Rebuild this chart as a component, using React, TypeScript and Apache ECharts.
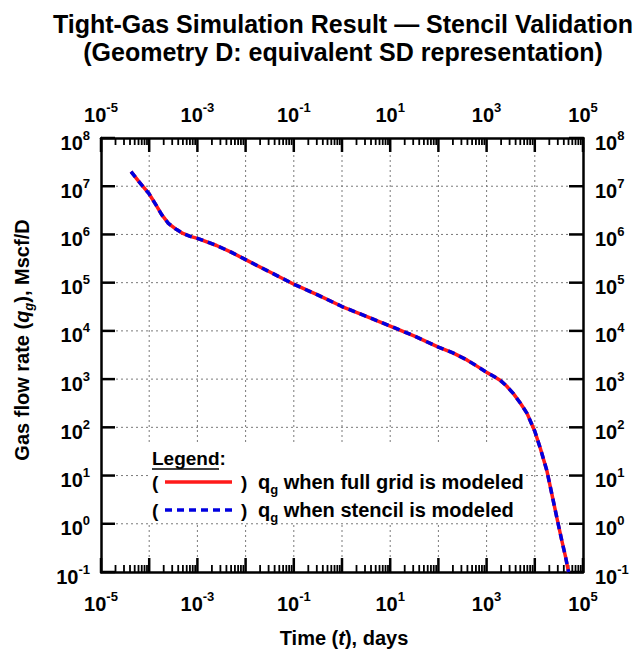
import React, { useEffect, useRef } from "react";
import * as echarts from "echarts";

// Time (days)
const timeDays = [
  4.2e-5, 6.3e-5, 1.0e-4, 1.4e-4, 1.8e-4, 2.5e-4, 3.7e-4, 5.0e-4, 7.1e-4, 1.0e-3,
  2.5e-3, 5.0e-3, 1.0e-2, 3.2e-2, 0.1, 0.32, 1, 3.2, 10, 32,
  100, 200, 390, 630, 1000, 1400, 1900, 2600, 3600, 5000,
  6900, 10000, 13200, 17800, 24500, 30200, 36300, 43700, 50100,
];
// Gas flow rate (Mscf/D) when full grid is modeled
const fullGridRate = [
  2.0e7, 1.2e7, 6.9e6, 4.0e6, 2.6e6, 1.7e6, 1.26e6, 1.05e6, 9.1e5, 8.3e5,
  5.9e5, 4.3e5, 3.0e5, 1.66e5, 9.3e4, 5.5e4, 3.2e4, 2.0e4, 1.26e4, 7.8e3,
  4.6e3, 3.5e3, 2.5e3, 1.86e3, 1.38e3, 1.15e3, 950, 720, 500, 320,
  195, 83, 35, 12.6, 2.8, 1.05, 0.45, 0.2, 0.1,
];
// Gas flow rate (Mscf/D) when stencil is modeled
const stencilRate = [
  2.0e7, 1.2e7, 6.9e6, 4.0e6, 2.6e6, 1.7e6, 1.26e6, 1.05e6, 9.1e5, 8.3e5,
  5.9e5, 4.3e5, 3.0e5, 1.66e5, 9.3e4, 5.5e4, 3.2e4, 2.0e4, 1.26e4, 7.8e3,
  4.6e3, 3.5e3, 2.5e3, 1.86e3, 1.38e3, 1.15e3, 950, 720, 500, 320,
  195, 83, 35, 12.6, 2.8, 1.05, 0.45, 0.2, 0.1,
];

const X_MIN = 1e-5;
const X_MAX = 1e5;
const Y_MIN = 1e-1;
const Y_MAX = 1e8;

// decade exponents for major ticks / grid lines
const xExponents = [-5, -4, -3, -2, -1, 0, 1, 2, 3, 4, 5];
const yExponents = [-1, 0, 1, 2, 3, 4, 5, 6, 7, 8];
const minorMultipliers = [2, 3, 4, 5, 6, 7, 8, 9];

const titleLines = [
  "Tight-Gas Simulation Result \u2014 Stencil Validation",
  "(Geometry D: equivalent SD representation)",
];

const FONT = '"Liberation Sans", Arial, Helvetica, sans-serif';

const tickRich = {
  b: { fontSize: 20, fontWeight: "bold", fontFamily: FONT, color: "#000", lineHeight: 28 },
  s: { fontSize: 13, fontWeight: "bold", fontFamily: FONT, color: "#000", lineHeight: 6, verticalAlign: "top" },
};

const expOf = (v: number) => Math.round(Math.log10(v));
const xFmt = (v: number) => {
  const e = expOf(v);
  return e % 2 !== 0 ? `{b|10}{s|${e}}` : "";
};
const yFmt = (v: number) => `{b|10}{s|${expOf(v)}}`;

export default function App() {
  const ref = useRef<HTMLDivElement>(null);
  useEffect(() => {
    if (!ref.current) return;
    const chart = echarts.init(ref.current, null, { renderer: "svg" });

    const minorTicks: number[][] = [];
    xExponents.slice(0, -1).forEach((e) =>
      minorMultipliers.forEach((m) => minorTicks.push([m * Math.pow(10, e), Y_MIN]))
    );
    const xMajor = xExponents.map((e) => [Math.pow(10, e), Y_MIN]);
    const yMajor = yExponents.map((e) => [X_MIN, Math.pow(10, e)]);

    const axisLineStyle = { color: "#000", width: 2.5 };
    const GRID = { stroke: "#7a7a7a", lineWidth: 1, lineDash: [2, 3] };
    const TICK = { stroke: "#000", lineWidth: 2.5 };
    const MINOR = { stroke: "#000", lineWidth: 1.8 };

    const txt = (x: number, y: number, text: string, extra: any = {}) => ({
      type: "text",
      x,
      y,
      z: 20,
      style: {
        text,
        fontSize: 19,
        fontWeight: "bold",
        fontFamily: FONT,
        fill: "#000",
        verticalAlign: "middle",
        ...extra,
      },
    });

    const legendRich = {
      q: { fontSize: 20, fontWeight: "bold", fontFamily: FONT, color: "#000", lineHeight: 28 },
      g: { fontSize: 13, fontWeight: "bold", fontFamily: FONT, color: "#000", lineHeight: 14, verticalAlign: "bottom" },
    };

    const logX = (position: string, margin: number) => ({
      type: "log",
      logBase: 10,
      min: X_MIN,
      max: X_MAX,
      interval: 1,
      position,
      axisLine: { show: true, lineStyle: axisLineStyle },
      axisTick: { show: false },
      axisLabel: { interval: 0, formatter: xFmt, rich: tickRich, margin },
      splitLine: { show: false },
    });
    const logY = (position: string, margin: number) => ({
      type: "log",
      logBase: 10,
      min: Y_MIN,
      max: Y_MAX,
      interval: 1,
      position,
      axisLine: { show: true, lineStyle: axisLineStyle },
      axisTick: { show: false },
      axisLabel: { interval: 0, formatter: yFmt, rich: tickRich, margin, padding: [9, 0, 0, 0] },
      splitLine: { show: false },
    });

    const option: any = {
      animation: false,
      backgroundColor: "#fff",
      title: {
        text: titleLines.join("\n"),
        left: 338,
        top: 5,
        textAlign: "center",
        textStyle: {
          fontSize: 25,
          fontWeight: "bold",
          fontFamily: FONT,
          color: "#000",
          lineHeight: 28,
        },
      },
      grid: { left: 101, top: 138, width: 482, height: 434, containLabel: false },
      xAxis: [logX("bottom", 18), logX("top", 9)],
      yAxis: [logY("left", 11), logY("right", 12)],
      series: [
        {
          // vertical grid lines + major x ticks (bottom & top)
          type: "custom",
          xAxisIndex: 0,
          yAxisIndex: 0,
          silent: true,
          clip: false,
          data: xMajor,
          z: 1,
          renderItem: (_p: any, api: any) => {
            const t = api.value(0);
            const b = api.coord([t, Y_MIN]);
            const tp = api.coord([t, Y_MAX]);
            const inner = t > X_MIN * 1.01 && t < X_MAX / 1.01;
            const children: any[] = [];
            if (inner) children.push({ type: "line", shape: { x1: b[0], y1: b[1], x2: tp[0], y2: tp[1] }, style: GRID });
            children.push({ type: "line", z2: 5, shape: { x1: b[0], y1: b[1], x2: b[0], y2: b[1] - 14 }, style: TICK });
            children.push({ type: "line", z2: 5, shape: { x1: tp[0], y1: tp[1], x2: tp[0], y2: tp[1] + 14 }, style: TICK });
            return { type: "group", children };
          },
        },
        {
          // horizontal grid lines + major y ticks (left & right)
          type: "custom",
          xAxisIndex: 0,
          yAxisIndex: 0,
          silent: true,
          clip: false,
          data: yMajor,
          z: 1,
          renderItem: (_p: any, api: any) => {
            const v = api.value(1);
            const l = api.coord([X_MIN, v]);
            const r = api.coord([X_MAX, v]);
            const inner = v > Y_MIN * 1.01 && v < Y_MAX / 1.01;
            const children: any[] = [];
            if (inner) children.push({ type: "line", shape: { x1: l[0], y1: l[1], x2: r[0], y2: r[1] }, style: GRID });
            children.push({ type: "line", z2: 5, shape: { x1: l[0], y1: l[1], x2: l[0] + 14, y2: l[1] }, style: TICK });
            children.push({ type: "line", z2: 5, shape: { x1: r[0], y1: r[1], x2: r[0] - 14, y2: r[1] }, style: TICK });
            return { type: "group", children };
          },
        },
        {
          // minor x ticks (bottom & top)
          type: "custom",
          xAxisIndex: 0,
          yAxisIndex: 0,
          silent: true,
          clip: false,
          data: minorTicks,
          z: 1,
          renderItem: (_p: any, api: any) => {
            const t = api.value(0);
            const b = api.coord([t, Y_MIN]);
            const tp = api.coord([t, Y_MAX]);
            return {
              type: "group",
              children: [
                { type: "line", shape: { x1: b[0], y1: b[1], x2: b[0], y2: b[1] - 7 }, style: MINOR },
                { type: "line", shape: { x1: tp[0], y1: tp[1], x2: tp[0], y2: tp[1] + 7 }, style: MINOR },
              ],
            };
          },
        },
        {
          name: "full grid",
          type: "line",
          xAxisIndex: 0,
          yAxisIndex: 0,
          data: timeDays.map((t, i) => [t, fullGridRate[i]]),
          showSymbol: false,
          symbol: "none",
          smooth: false,
          lineStyle: { color: "#ff1a1a", width: 3.5, join: "round" },
          z: 3,
        },
        {
          name: "stencil",
          type: "line",
          xAxisIndex: 0,
          yAxisIndex: 0,
          data: timeDays.map((t, i) => [t, stencilRate[i]]),
          showSymbol: false,
          symbol: "none",
          smooth: false,
          lineStyle: { color: "#0000e0", width: 3.5, type: [7, 5], join: "round" },
          z: 4,
        },
      ],
      graphic: [
        { type: "rect", z: 10, shape: { x: 148, y: 445, width: 377, height: 77 }, style: { fill: "#fff" } },
        txt(152, 458, "Legend:"),
        { type: "line", z: 20, shape: { x1: 152, y1: 469, x2: 219, y2: 469 }, style: { stroke: "#000", lineWidth: 1.5 } },
        txt(152, 482, "("),
        { type: "line", z: 20, shape: { x1: 165, y1: 482, x2: 232, y2: 482 }, style: { stroke: "#ff1a1a", lineWidth: 3.5 } },
        txt(241, 482, ")"),
        {
          type: "text",
          x: 258,
          y: 482,
          z: 20,
          style: { text: "{q|q}{g|g}{q| when full grid is modeled}", rich: legendRich, verticalAlign: "middle" },
        },
        txt(152, 510, "("),
        { type: "line", z: 20, shape: { x1: 165, y1: 510, x2: 232, y2: 510 }, style: { stroke: "#0000e0", lineWidth: 3.5, lineDash: [7, 5] } },
        txt(241, 510, ")"),
        {
          type: "text",
          x: 258,
          y: 510,
          z: 20,
          style: { text: "{q|q}{g|g}{q| when stencil is modeled}", rich: legendRich, verticalAlign: "middle" },
        },
        {
          type: "text",
          x: 344,
          y: 638,
          z: 20,
          style: {
            text: "{n|Time (}{i|t}{n|), days}",
            align: "center",
            verticalAlign: "middle",
            rich: {
              n: { fontSize: 20, fontWeight: "bold", fontFamily: FONT, color: "#000" },
              i: { fontSize: 20, fontWeight: "bold", fontStyle: "italic", fontFamily: FONT, color: "#000" },
            },
          },
        },
        {
          type: "text",
          x: 22,
          y: 340,
          z: 20,
          rotation: Math.PI / 2,
          style: {
            text: "{n|Gas flow rate (}{i|q}{s|g}{n|), Mscf/D}",
            align: "center",
            verticalAlign: "middle",
            rich: {
              n: { fontSize: 20, fontWeight: "bold", fontFamily: FONT, color: "#000", lineHeight: 26 },
              i: { fontSize: 20, fontWeight: "bold", fontStyle: "italic", fontFamily: FONT, color: "#000", lineHeight: 26 },
              s: { fontSize: 13, fontWeight: "bold", fontStyle: "italic", fontFamily: FONT, color: "#000", lineHeight: 14, verticalAlign: "bottom" },
            },
          },
        },
      ],
    };

    chart.setOption(option);
    return () => chart.dispose();
  }, []);

  return (
    <div
      ref={ref}
      style={{ position: "absolute", left: 0, top: 0, width: 635, height: 655, background: "#fff" }}
    />
  );
}
